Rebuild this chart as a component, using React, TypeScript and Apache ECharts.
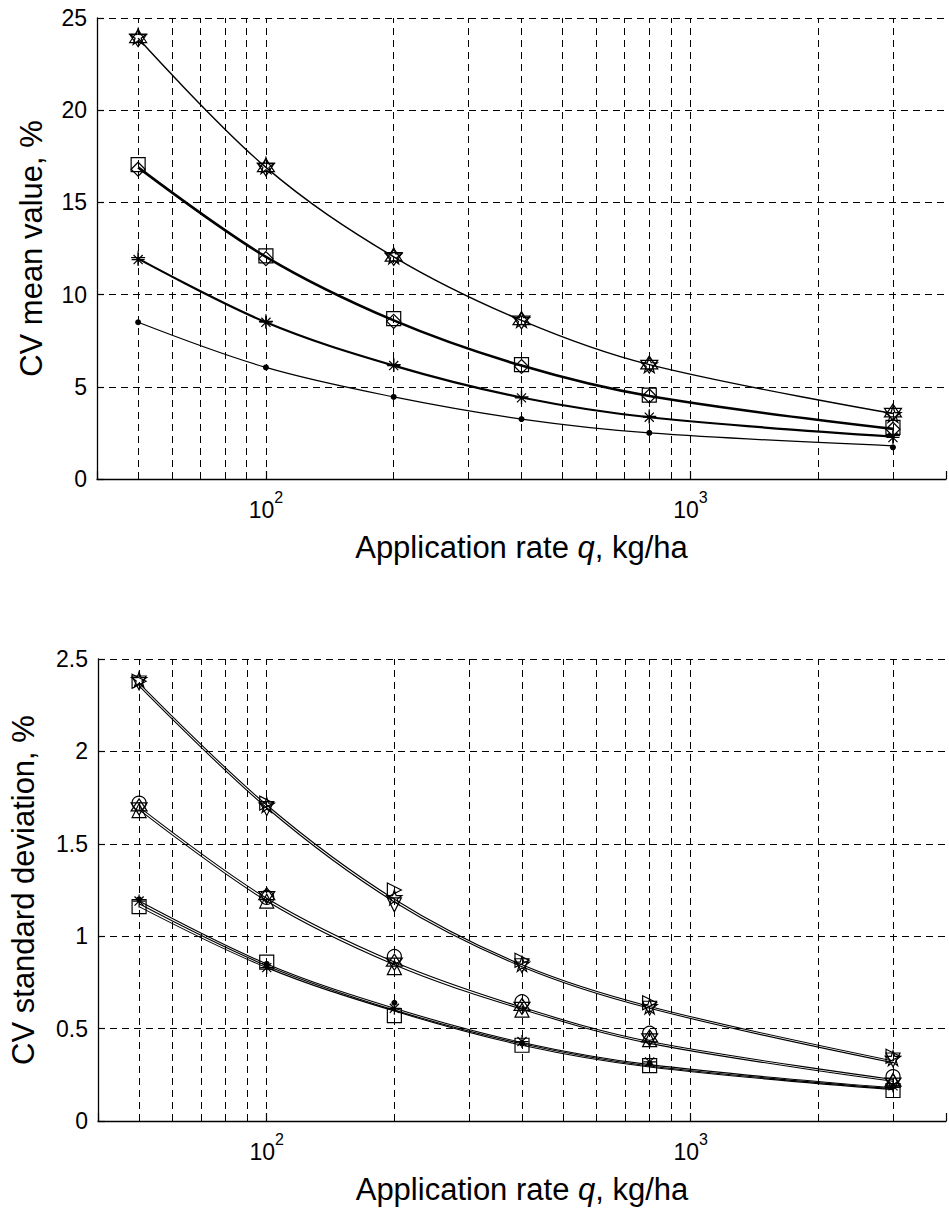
import React, { useEffect, useRef } from "react";
import * as echarts from "echarts";

// ---------- data ----------
const qValues = [50, 100, 200, 400, 800, 3000];
const xGridValues = [50, 60, 70, 80, 90, 100, 200, 300, 400, 500, 600, 700, 800, 900, 1000, 2000, 3000];
const xTickExponents = [2, 3];
const xMin = 40;
const xMax = 4000;

// top panel: CV mean value (%) — fitted curves
const meanCurveA = [23.9, 16.9, 12.05, 8.6, 6.2, 3.55];
const meanCurveB = [16.9, 12.05, 8.6, 6.15, 4.5, 2.72];
const meanCurveC = [11.95, 8.5, 6.15, 4.42, 3.35, 2.3];
const meanCurveD = [8.5, 6.05, 4.45, 3.25, 2.5, 1.8];
// top panel markers
const meanHexagram = [23.9, 16.9, 12.05, 8.6, 6.2, 3.6];
const meanPentagram = [24.0, 17.0, 12.1, 8.65, 6.2, 3.5];
const meanSquare = [17.05, 12.1, 8.7, 6.2, 4.55, 2.8];
const meanDiamond = [16.8, 11.95, 8.55, 6.1, 4.5, 2.7];
const meanPlus = [12.0, 8.55, 6.2, 4.45, 3.4, 2.35];
const meanAsterisk = [11.9, 8.5, 6.15, 4.4, 3.35, 2.25];
const meanDot = [8.5, 6.05, 4.45, 3.25, 2.5, 1.72];

// bottom panel: CV standard deviation (%) — fitted curves (double lines)
const sdCurveE1 = [2.37, 1.71, 1.2, 0.845, 0.62, 0.325];
const sdCurveE2 = [2.355, 1.695, 1.185, 0.835, 0.61, 0.315];
const sdCurveF1 = [1.7, 1.205, 0.86, 0.615, 0.43, 0.225];
const sdCurveF2 = [1.685, 1.19, 0.845, 0.605, 0.42, 0.215];
const sdCurveG1 = [1.19, 0.85, 0.61, 0.425, 0.305, 0.18];
const sdCurveG2 = [1.175, 0.84, 0.6, 0.418, 0.298, 0.175];
const sdCurveG3 = [1.16, 0.83, 0.595, 0.41, 0.292, 0.17];
// bottom panel markers
const sdTriDown = [2.37, 1.69, 1.17, 0.84, 0.61, 0.33];
const sdTriRight = [2.38, 1.72, 1.25, 0.87, 0.64, 0.35];
const sdPentagram = [2.39, 1.71, 1.21, 0.85, 0.62, 0.34];
const sdCircle = [1.72, 1.21, 0.89, 0.645, 0.475, 0.24];
const sdTriUp = [1.68, 1.19, 0.83, 0.6, 0.44, 0.22];
const sdHexagram = [1.7, 1.22, 0.86, 0.62, 0.45, 0.21];
const sdSquare = [1.16, 0.86, 0.57, 0.41, 0.3, 0.165];
const sdAsterisk = [1.19, 0.83, 0.61, 0.43, 0.32, 0.19];
const sdDot = [1.2, 0.85, 0.64, 0.42, 0.31, 0.19];

// ---------- styling ----------
const FONT = "'Liberation Sans', Arial, Helvetica, sans-serif";
const BLACK = "#000";
const DASH = [7, 5];

const SYM = {
  triDown: "path://M0,0L10,0L5,10Z",
  triRight: "path://M0,0L10,5L0,10Z",
  triUp: "path://M5,0L10,10L0,10Z",
  hexagram: "path://M5,0L9.33,7.5L0.67,7.5Z M5,10L0.67,2.5L9.33,2.5Z",
  pentagram:
    "path://M5,0L6.18,3.62L10,3.62L6.91,5.86L8.09,9.51L5,7.27L1.91,9.51L3.09,5.86L0,3.62L3.82,3.62Z",
  plus: "path://M5,0L5,10M0,5L10,5",
  asterisk: "path://M5,0L5,10M0,5L10,5M1.5,1.5L8.5,8.5M8.5,1.5L1.5,8.5",
  diamond: "path://M5,0L10,5L5,10L0,5Z",
  square: "path://M0,0L10,0L10,10L0,10Z",
};

const pairs = (vals: number[]) => qValues.map((q, i) => [q, vals[i]]);

const curve = (idx: number, vals: number[], width: number) => ({
  type: "line",
  xAxisIndex: idx,
  yAxisIndex: idx,
  data: pairs(vals),
  smooth: 0.35,
  showSymbol: false,
  symbol: "none",
  silent: true,
  z: 3,
  lineStyle: { color: BLACK, width },
});

const markers = (idx: number, vals: number[], symbol: string, size: number, filled = false) => ({
  type: "scatter",
  xAxisIndex: idx,
  yAxisIndex: idx,
  data: pairs(vals),
  symbol,
  symbolSize: size,
  silent: true,
  z: 5,
  itemStyle: filled
    ? { color: BLACK, borderColor: BLACK, borderWidth: 0, opacity: 1 }
    : { color: "rgba(0,0,0,0)", borderColor: BLACK, borderWidth: 1.2, opacity: 1 },
});

const gridLines = (idx: number) => ({
  type: "line",
  xAxisIndex: idx,
  yAxisIndex: idx,
  data: [],
  silent: true,
  z: 1,
  markLine: {
    silent: true,
    symbol: ["none", "none"],
    label: { show: false },
    animation: false,
    lineStyle: { color: BLACK, type: DASH, width: 1 },
    data: xGridValues.map((v) => ({ xAxis: v })),
  },
});

const xAxisCfg = (idx: number) => ({
  type: "log",
  logBase: 10,
  gridIndex: idx,
  min: xMin,
  max: xMax,
  name: "Application rate {i|q}, kg/ha",
  nameLocation: "middle",
  nameGap: 53,
  nameTextStyle: {
    fontSize: 31,
    color: BLACK,
    fontFamily: FONT,
    rich: { i: { fontSize: 31, fontStyle: "italic", color: BLACK, fontFamily: FONT } },
  },
  axisLine: { show: true, onZero: false, lineStyle: { color: BLACK, width: 1.3 } },
  axisTick: { show: true, inside: true, length: 8, lineStyle: { color: BLACK, width: 1.2 } },
  splitLine: { show: false },
  axisLabel: {
    margin: 10,
    color: BLACK,
    formatter: (v: number) => {
      const e = Math.log10(v);
      const r = Math.round(e);
      if (Math.abs(e - r) < 1e-6 && xTickExponents.indexOf(r) >= 0) return `{b|10}{s|${r}}`;
      return "";
    },
    rich: {
      b: { fontSize: 23, lineHeight: 42, color: BLACK, fontFamily: FONT, verticalAlign: "middle" },
      s: { fontSize: 16, lineHeight: 14, color: BLACK, fontFamily: FONT, verticalAlign: "top" },
    },
  },
});

const yAxisCfg = (idx: number, max: number, interval: number, name: string, gap: number) => ({
  type: "value",
  gridIndex: idx,
  min: 0,
  max,
  interval,
  name,
  nameLocation: "middle",
  nameGap: gap,
  nameTextStyle: { fontSize: 31, color: BLACK, fontFamily: FONT },
  axisLine: { show: true, lineStyle: { color: BLACK, width: 1.3 } },
  axisTick: { show: true, inside: true, length: 7, lineStyle: { color: BLACK, width: 1.2 } },
  axisLabel: { fontSize: 23, color: BLACK, margin: 10, fontFamily: FONT },
  splitLine: { show: true, lineStyle: { color: BLACK, type: DASH, width: 1 } },
});

export default function App() {
  const ref = useRef<HTMLDivElement>(null);

  useEffect(() => {
    if (!ref.current) return;
    const chart = echarts.init(ref.current, null, { renderer: "svg" });
    const option = {
      animation: false,
      backgroundColor: "#fff",
      textStyle: { fontFamily: FONT, color: BLACK },
      grid: [
        { left: 97, top: 18, right: -7, height: 461 },
        { left: 97, top: 659, right: -7, height: 462 },
      ],
      xAxis: [xAxisCfg(0), xAxisCfg(1)],
      yAxis: [
        yAxisCfg(0, 25, 5, "CV mean value, %", 50),
        yAxisCfg(1, 2.5, 0.5, "CV standard deviation, %", 59),
      ],
      series: [
        gridLines(0),
        gridLines(1),
        // top panel curves
        curve(0, meanCurveA, 1.4),
        curve(0, meanCurveB, 2.6),
        curve(0, meanCurveC, 2.2),
        curve(0, meanCurveD, 1.2),
        // top panel markers
        markers(0, meanHexagram, SYM.hexagram, 17),
        markers(0, meanPentagram, SYM.pentagram, 16),
        markers(0, meanSquare, SYM.square, 14),
        markers(0, meanDiamond, SYM.diamond, 14),
        markers(0, meanPlus, SYM.plus, 14),
        markers(0, meanAsterisk, SYM.asterisk, 13),
        markers(0, meanDot, "circle", 6, true),
        // bottom panel curves
        curve(1, sdCurveE1, 1.1),
        curve(1, sdCurveE2, 1.1),
        curve(1, sdCurveF1, 1.1),
        curve(1, sdCurveF2, 1.1),
        curve(1, sdCurveG1, 1.1),
        curve(1, sdCurveG2, 1.1),
        curve(1, sdCurveG3, 1.1),
        // bottom panel markers
        markers(1, sdTriDown, SYM.triDown, 14),
        markers(1, sdTriRight, SYM.triRight, 14),
        markers(1, sdPentagram, SYM.pentagram, 15),
        markers(1, sdCircle, "circle", 14),
        markers(1, sdTriUp, SYM.triUp, 14),
        markers(1, sdHexagram, SYM.hexagram, 16),
        markers(1, sdSquare, SYM.square, 14),
        markers(1, sdAsterisk, SYM.asterisk, 13),
        markers(1, sdDot, "circle", 6, true),
      ],
    };
    chart.setOption(option as any);
    return () => chart.dispose();
  }, []);

  return (
    <div
      ref={ref}
      style={{ position: "absolute", left: 0, top: 0, width: 949, height: 1209, background: "#fff" }}
    />
  );
}
